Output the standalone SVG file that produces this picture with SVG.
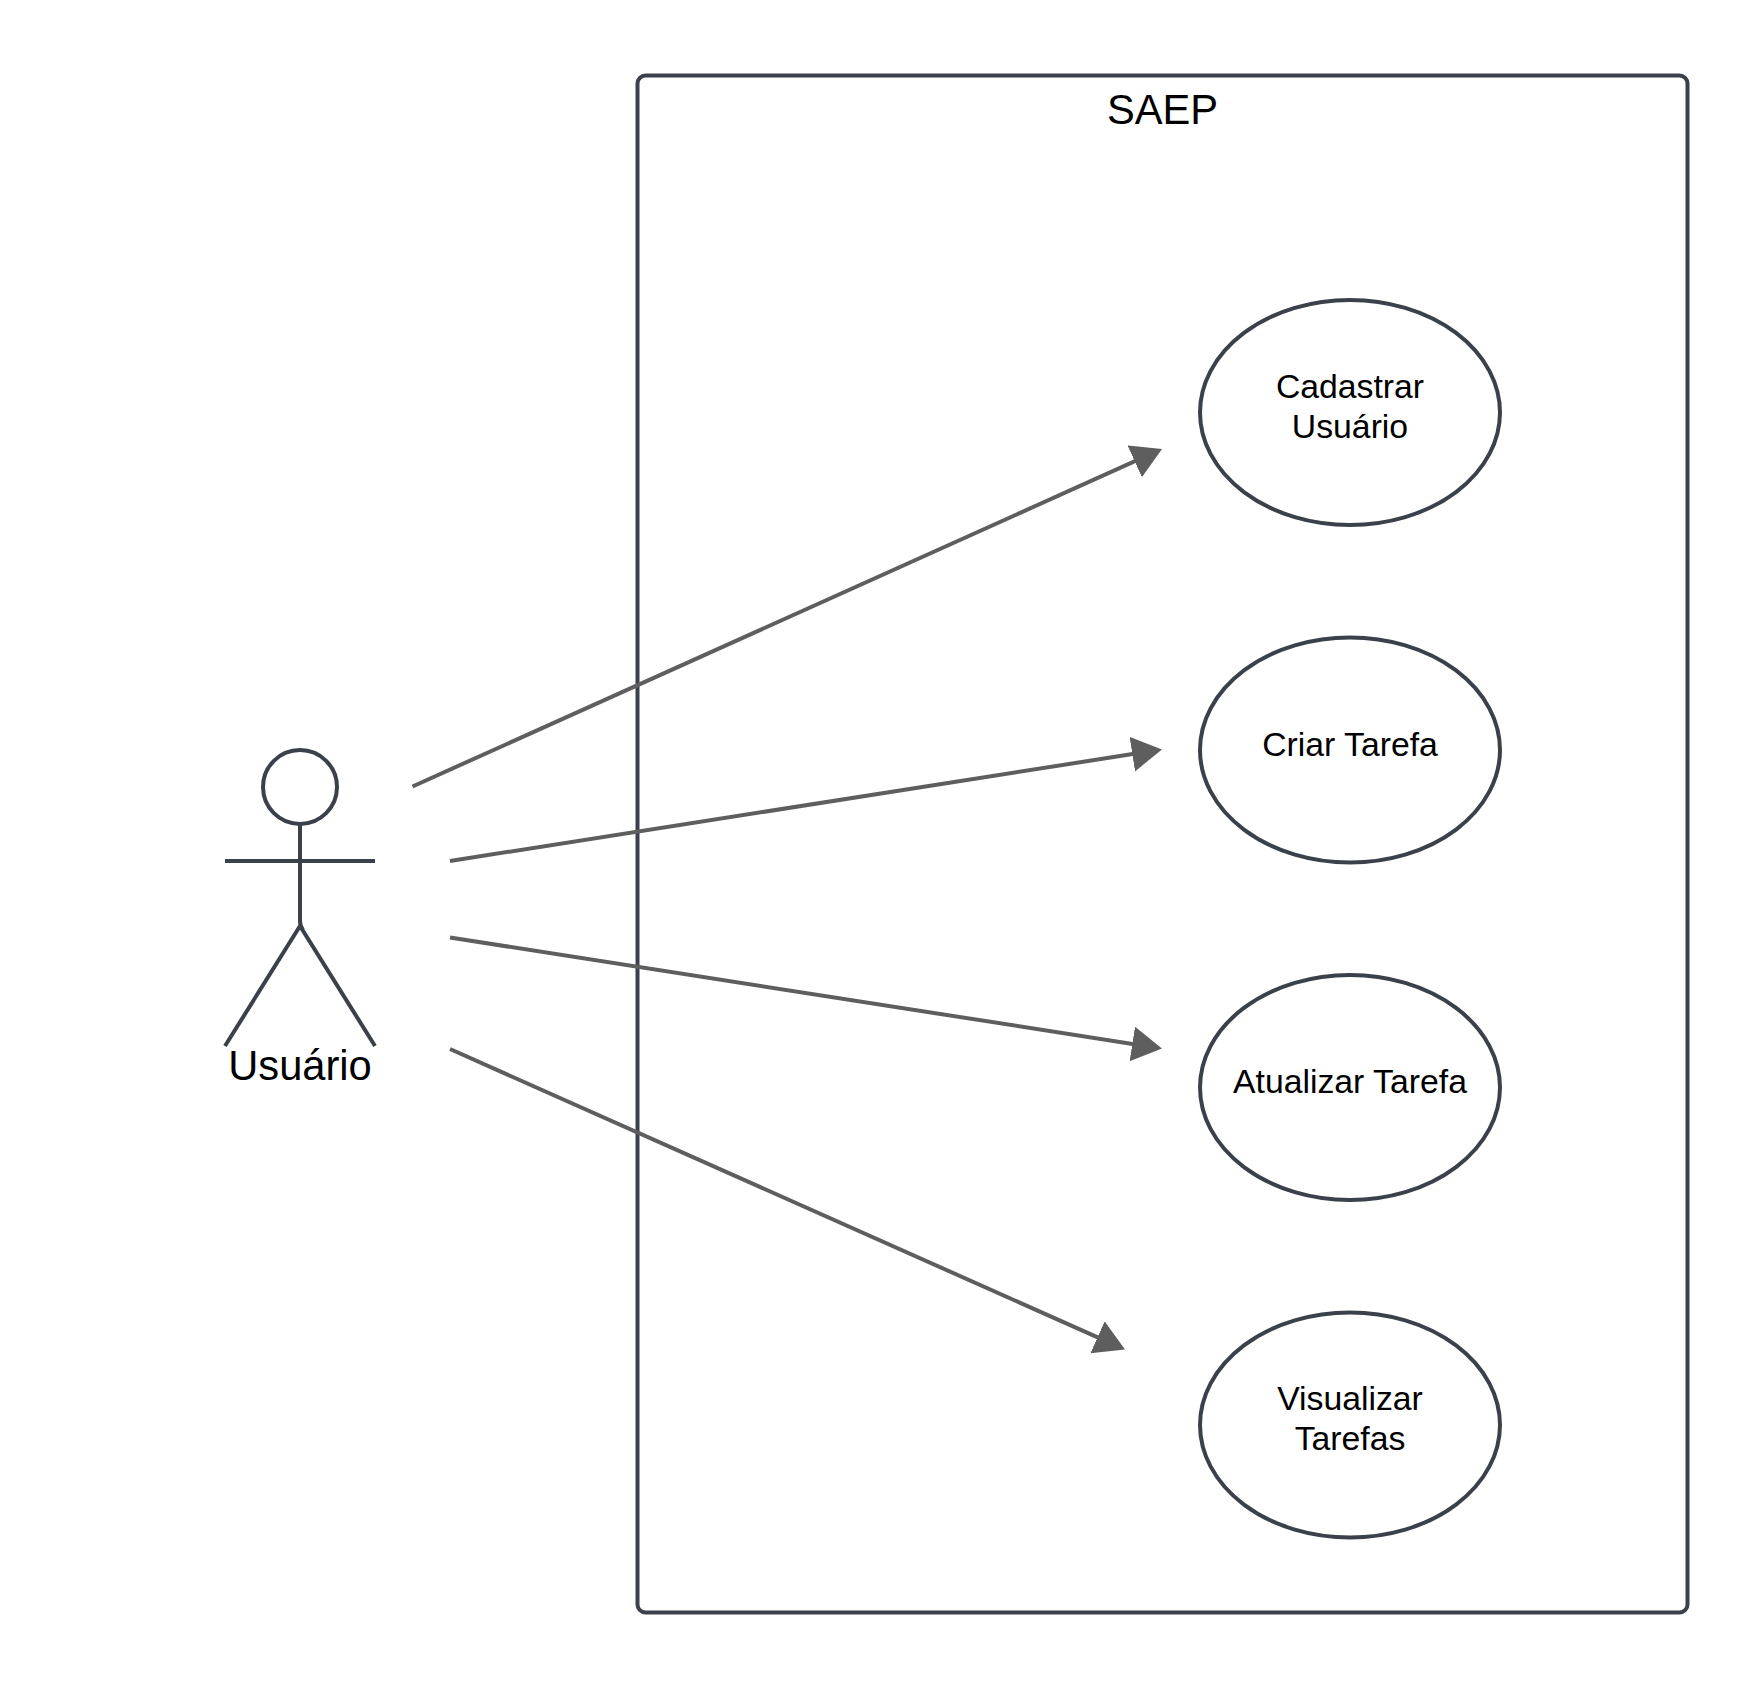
<svg xmlns="http://www.w3.org/2000/svg" width="1763" height="1688" viewBox="0 0 1763 1688">
<style>
.s{fill:none;stroke:#3a414a;stroke-width:4}
.e{fill:#fff;stroke:#3a414a;stroke-width:4}
.c{fill:none;stroke:#5e5e5e;stroke-width:4}
text{font-family:"Liberation Sans",Arial,sans-serif;fill:#000;text-anchor:middle}
.l{font-size:41.67px}
.u{font-size:33.75px}
</style>
<defs>
<marker id="a" markerUnits="userSpaceOnUse" markerWidth="40" markerHeight="40" refX="18" refY="17.500" orient="auto" viewBox="0 0 40 40"><path d="M0 0L30 17.500L0 35Z" fill="#5e5e5e"/></marker>
</defs>
<rect width="1763" height="1688" fill="#fff"/>
<g id="system"><rect class="s" x="637.500" y="75.500" width="1050" height="1537" rx="8"/><text class="l" x="1162.500" y="124">SAEP</text></g>
<g id="actor"><circle class="s" cx="300" cy="787" r="37"/><path class="s" d="M300 824V921Q300 926 303 930M225 861H375M225 1046L300 926L375 1046"/><text class="l" x="300" y="1080">Usuário</text></g>
<g id="uc1"><ellipse class="e" cx="1350" cy="412.500" rx="150" ry="112.500"/><text class="u" x="1350" y="397.500">Cadastrar</text><text class="u" x="1350" y="438">Usuário</text></g>
<g id="uc2"><ellipse class="e" cx="1350" cy="750" rx="150" ry="112.500"/><text class="u" x="1350" y="756">Criar Tarefa</text></g>
<g id="uc3"><ellipse class="e" cx="1350" cy="1087.500" rx="150" ry="112.500"/><text class="u" x="1350" y="1093">Atualizar Tarefa</text></g>
<g id="uc4"><ellipse class="e" cx="1350" cy="1425" rx="150" ry="112.500"/><text class="u" x="1350" y="1410">Visualizar</text><text class="u" x="1350" y="1450">Tarefas</text></g>
<g id="connectors">
<line class="c" x1="412.500" y1="786.500" x2="1151.100" y2="453.900" marker-end="url(#a)"/>
<line class="c" x1="450" y1="861" x2="1150.100" y2="751.300" marker-end="url(#a)"/>
<line class="c" x1="450" y1="937.500" x2="1150.100" y2="1046.700" marker-end="url(#a)"/>
<line class="c" x1="450" y1="1049" x2="1114" y2="1344.600" marker-end="url(#a)"/>
</g>
</svg>
